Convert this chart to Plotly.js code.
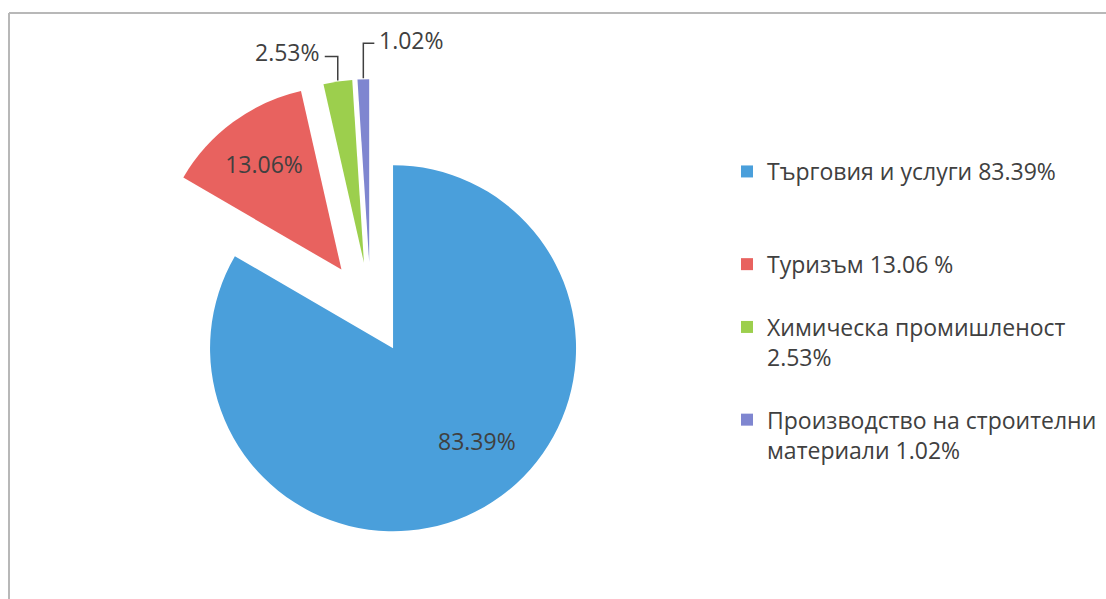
<!DOCTYPE html>
<html><head><meta charset="utf-8">
<script src="https://cdn.plot.ly/plotly-3.0.1.min.js"></script>
<style>html,body{margin:0;padding:0;background:#fff}#chart{width:1106px;height:599px}</style>
</head><body><div id="chart"></div>
<script>
const categories = ['Търговия и услуги 83.39%', 'Туризъм 13.06 %', 'Химическа промишленост<br>2.53%', 'Производство на строителни<br>материали 1.02%'];
const values = [83.39, 13.06, 2.53, 1.02];
const colors = ['#4a9fdb', '#e8625f', '#9ccf4d', '#7f86d0'];
const pulls = [0.245, 0.27, 0.258, 0.258];
const textPositions = ['none', 'inside', 'none', 'none'];

const W = 1106, H = 599;
const FONT = 'Open Sans, sans-serif';
const FS = 23;
const TXT = '#404040';
// blank lines appended to legend entries to spread them vertically (spacing style)
const legendPadLines = [2, 1, 1, 0];
const blankLine = '<br><span style="color:rgba(0,0,0,0)">.</span>';
const legendLabels = categories.map((c, i) => c + blankLine.repeat(legendPadLines[i]));

// pie geometry (pixels) -> domain
const CX = 370.7, CY = 309.4, R = 183;
const maxPull = Math.max(...pulls);
const half = R * (1 + maxPull);

const trace = {
  type: 'pie',
  labels: legendLabels,
  values: values,
  sort: false,
  direction: 'clockwise',
  rotation: 0,
  pull: pulls,
  marker: {colors: colors, line: {width: 0}},
  textposition: textPositions,
  texttemplate: '%{percent:.2%}',
  insidetextorientation: 'horizontal',
  textfont: {family: FONT, size: FS, color: TXT},
  hoverinfo: 'percent',
  domain: {x: [(CX - half) / W, (CX + half) / W], y: [1 - (CY + half) / H, 1 - (CY - half) / H]}
};

const layout = {
  width: W, height: H,
  margin: {l: 0, r: 0, t: 0, b: 0},
  paper_bgcolor: '#ffffff',
  showlegend: true,
  legend: {
    x: 727 / W, xanchor: 'left', y: 1 - 150 / H, yanchor: 'top',
    valign: 'top',
    font: {family: FONT, size: FS, color: TXT},
    bgcolor: 'rgba(0,0,0,0)'
  },
  shapes: [
    {type: 'line', xref: 'paper', yref: 'paper', x0: 9 / W, x1: 1, y0: 1 - 13 / H, y1: 1 - 13 / H, line: {color: '#b8b8b8', width: 2}},
    {type: 'line', xref: 'paper', yref: 'paper', x0: 9 / W, x1: 9 / W, y0: 1 - 13 / H, y1: 0, line: {color: '#b8b8b8', width: 2}}
  ]
};

// label styles (px offsets): inside label for the big slice, elbow leaders for thin slices
const insideStyle = {0: {dx: 84, dy: 93}};
const leaderStyle = {2: {rise: 25, dx: -13, side: 'right', tdy: -5}, 3: {rise: 36, dx: 11, side: 'left', tdy: -3}};

Plotly.newPlot('chart', [trace], layout, {displayModeBar: false, staticPlot: true}).then(gd => {
  const cd = gd.calcdata[0];
  const cx = cd[0].cx, cy = cd[0].cy;
  const total = values.reduce((a, b) => a + b, 0);
  const pct = i => (values[i] / total * 100).toFixed(2) + '%';
  const shapes = layout.shapes.slice();
  const annotations = [];
  const p = (x, y) => (x / W) + ',' + (1 - y / H);
  Object.keys(insideStyle).forEach(k => {
    const i = +k, st = insideStyle[k], pt = cd[i];
    const ax = cx + pt.pxmid[0] * pulls[i], ay = cy + pt.pxmid[1] * pulls[i];
    annotations.push({xref: 'paper', yref: 'paper', x: (ax + st.dx) / W, y: 1 - (ay + st.dy) / H,
      xanchor: 'center', yanchor: 'middle', showarrow: false, text: pct(i),
      font: {family: FONT, size: FS, color: TXT}});
  });
  Object.keys(leaderStyle).forEach(k => {
    const i = +k, st = leaderStyle[k], pt = cd[i];
    const tx = cx + pt.pxmid[0] * (1 + pulls[i]);
    const ty = cy + pt.pxmid[1] * (1 + pulls[i]);
    const ey = ty - st.rise, ex = tx + st.dx;
    shapes.push({type: 'path', xref: 'paper', yref: 'paper',
      path: 'M' + p(tx, ty - 1) + 'L' + p(tx, ey) + 'L' + p(ex, ey),
      line: {color: TXT, width: 1.5}});
    annotations.push({xref: 'paper', yref: 'paper', x: (ex + (st.side === 'right' ? -3 : 3)) / W, y: 1 - (ey + st.tdy) / H,
      xanchor: st.side, yanchor: 'middle', showarrow: false, text: pct(i),
      font: {family: FONT, size: FS, color: TXT}});
  });
  return Plotly.relayout(gd, {shapes: shapes, annotations: annotations});
});
</script></body></html>
